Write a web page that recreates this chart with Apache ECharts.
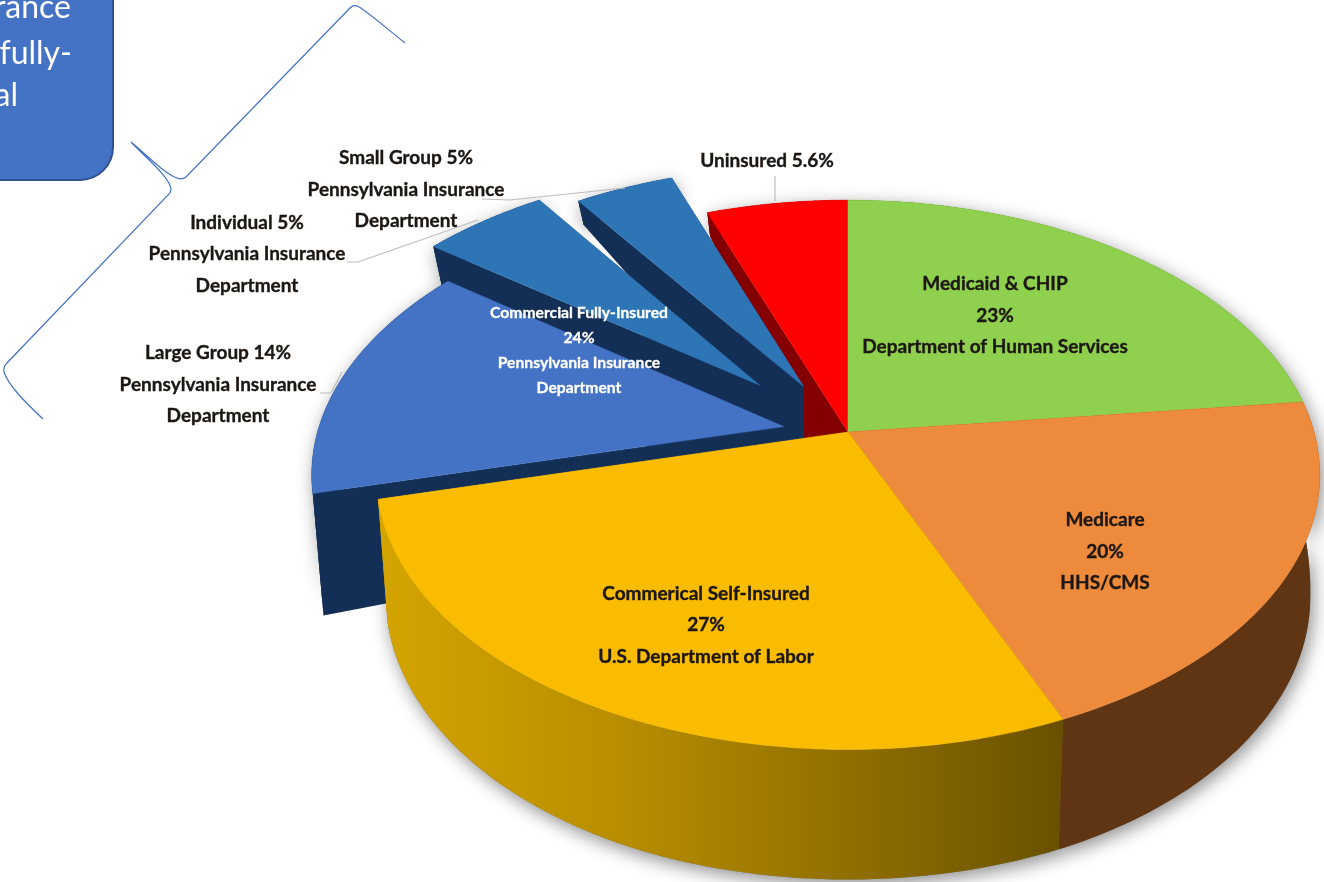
<!DOCTYPE html>
<html><head><meta charset="utf-8">
<style>html,body{margin:0;padding:0;background:#fff;overflow:hidden}#c{width:1324px;height:882px}</style>
<script src="https://cdn.jsdelivr.net/npm/echarts@6/dist/echarts.min.js"></script>
</head><body><div id="c"></div>
<script>
// ---- data ----
const categories = ['Medicaid & CHIP','Medicare','Commerical Self-Insured','Large Group','Individual','Small Group','Uninsured'];
const values = [23,20,27,14,5,5,5.6];
const agencies = ['Department of Human Services','HHS/CMS','U.S. Department of Labor','Pennsylvania Insurance Department','Pennsylvania Insurance Department','Pennsylvania Insurance Department',''];
const fullyInsuredName = 'Commercial Fully-Insured';
const fullyInsuredParts = ['Large Group','Individual','Small Group'];
const fullyInsuredAgency = 'Pennsylvania Insurance\nDepartment';
const boxText = ['rance','fully-','al'];

// ---- styles and layout ----
const topColors = ['#8FD14F','#EE8A3B','#F9BC00','#4472C4','#2E75B6','#2E75B6','#FF0000'];
const wallColors = ['#4f7a25','#5F3514',null,'#142F56','#142F56','#142F56','#840000'];
const explode = [0,0,0,0.14,0.265,0.2,0];
// small angular corrections (degrees) at slice boundaries for the reference's 3D view
const viewNudge = [0,0.3,1.3,3,3,3.5,0,0];
const paintOrder = [6,5,4,3,0,1,2];
const labelAt = [[995,315.5],[1105,551.5],[706,625],[218,384.5],[247,254],[406,189.5],[767,161]];
const leaders = [null,null,null,
  [[320,393],[331,393],[342,372]],
  [[347,262],[358,262],[478,220]],
  [[482,199],[510,200],[625,188]],
  [[775,176],[775,201]]];
const bracePath = 'M405,43 C385,27 368,12 359,7 Q354,4 350,8 L186,177 Q182,180 177,178 C165,174 150,158 131,142 C145,157 171,178 171,190 L170,193 L6,364 Q3,368 4,372 C8,385 25,402 43,419';
const P = {cx:848, cy:432, a:466, b:268, k:0.156};
const depthStops = [[180,24],[215,24],[250,40],[490,122],[715,130],[900,130]];

function depth(y){
  if(y<=depthStops[0][0])return depthStops[0][1];
  for(let i=1;i<depthStops.length;i++){
    const s=depthStops[i-1],t=depthStops[i];
    if(y<=t[0])return s[1]+(t[1]-s[1])*(y-s[0])/(t[0]-s[0]);
  }
  return depthStops[depthStops.length-1][1];
}
function project(u,v){const w=1-P.k*v;return [P.cx+P.a*u/w,P.cy+P.b*v/w];}
function lower(p){return [p[0]+(P.cx-p[0])*0.02,p[1]+depth(p[1])];}
const total = values.reduce((s,v)=>s+v,0);
const yellowGrad = new echarts.graphic.LinearGradient(377,0,1065,0,[
  {offset:0,color:'#D4A400'},{offset:0.35,color:'#B88E00'},{offset:0.7,color:'#8F6E00'},{offset:1,color:'#685000'}],true);
const font = (s,w)=>(w||'bold')+' '+s+'px Lato, "Open Sans", sans-serif';
const rad = Math.PI/180;

function renderItem(params,api){
  const i=params.dataIndex, val=api.value(0);
  let before=0; for(let j=0;j<i;j++)before+=values[j];
  const a0=before/total*Math.PI*2, a1=(before+val)/total*Math.PI*2, mid=(a0+a1)/2;
  const t0=a0+viewNudge[i]*rad, t1=a1+viewNudge[i+1]*rad;
  const ox=explode[i]*Math.sin(mid), oy=-explode[i]*Math.cos(mid);
  const apex=project(ox,oy), arc=[];
  const n=80;
  for(let s=0;s<=n;s++){const t=t0+(t1-t0)*s/n;arc.push(project(Math.sin(t)+ox,-Math.cos(t)+oy));}
  const rank=paintOrder.indexOf(i)+1;
  const wallFill=wallColors[i]||yellowGrad;
  const lowArc=arc.map(lower).reverse();
  const wall=arc.concat(lowArc);
  const q1=[apex,arc[0],lower(arc[0]),lower(apex)];
  const q2=[apex,arc[n],lower(arc[n]),lower(apex)];
  const poly=(pts,fill,z,extra)=>({type:'polygon',z2:z,shape:{points:pts},style:Object.assign({fill:fill},extra||{})});
  const kids=[
    poly(wall,'#777',1,{shadowColor:'rgba(0,0,0,0.45)',shadowBlur:18,shadowOffsetY:5,shadowOffsetX:3}),
    poly(q1,wallFill,rank*10),
    poly(q2,wallFill,rank*10),
    poly(wall,wallFill,rank*10+1),
    poly([apex].concat(arc),topColors[i],rank*10+2,{stroke:topColors[i],lineWidth:0.5})
  ];
  const pct=val+'%', ag=agencies[i];
  let txt;
  if(!ag) txt=categories[i]+' '+pct;
  else if(explode[i]>0) txt=categories[i]+' '+pct+'\n'+ag.replace(' Department','\nDepartment');
  else txt=categories[i]+'\n'+pct+'\n'+ag;
  kids.push({type:'text',z2:1000,style:{text:txt,x:labelAt[i][0],y:labelAt[i][1],align:'center',verticalAlign:'middle',
    fill:'#1c1712',font:font(19),lineHeight:31.5,stroke:'#1c1712',lineWidth:0.35}});
  if(leaders[i]) kids.push({type:'polyline',z2:900,shape:{points:leaders[i]},style:{fill:null,stroke:'#BDBDBD',lineWidth:1.2}});
  if(i===0) kids.push({type:'path',z2:900,shape:{pathData:bracePath},style:{fill:null,stroke:'#4472C4',lineWidth:1.2}});
  return {type:'group',children:kids};
}

const fiValue = fullyInsuredParts.reduce((s,n)=>s+values[categories.indexOf(n)],0);
const chart = echarts.init(document.getElementById('c'),null,{renderer:'canvas',width:1324,height:882});
chart.setOption({
  animation:false,
  backgroundColor:'#fff',
  series:[{type:'custom',coordinateSystem:'none',clip:false,silent:true,
    data:values.map((v,i)=>({name:categories[i],value:[v]})),
    encode:{value:0},renderItem:renderItem}],
  graphic:[
    {type:'rect',z:5,shape:{x:-40,y:-40,width:153,height:220,r:[0,0,33,0]},style:{fill:'#4472C4',stroke:'#2F528F',lineWidth:2}},
    {type:'text',z:6,style:{text:boxText[0],x:71,y:8,align:'right',verticalAlign:'middle',fill:'#fff',font:font(32,'normal')}},
    {type:'text',z:6,style:{text:boxText[1],x:72,y:54,align:'right',verticalAlign:'middle',fill:'#fff',font:font(32,'normal')}},
    {type:'text',z:6,style:{text:boxText[2],x:18,y:96,align:'right',verticalAlign:'middle',fill:'#fff',font:font(32,'normal')}},
    {type:'text',z:7,style:{text:fullyInsuredName+'\n'+fiValue+'%\n'+fullyInsuredAgency,x:579,y:350,align:'center',verticalAlign:'middle',
      fill:'#fff',font:font(15.7),lineHeight:25,stroke:'#fff',lineWidth:0.3}}
  ]
});
</script></body></html>
